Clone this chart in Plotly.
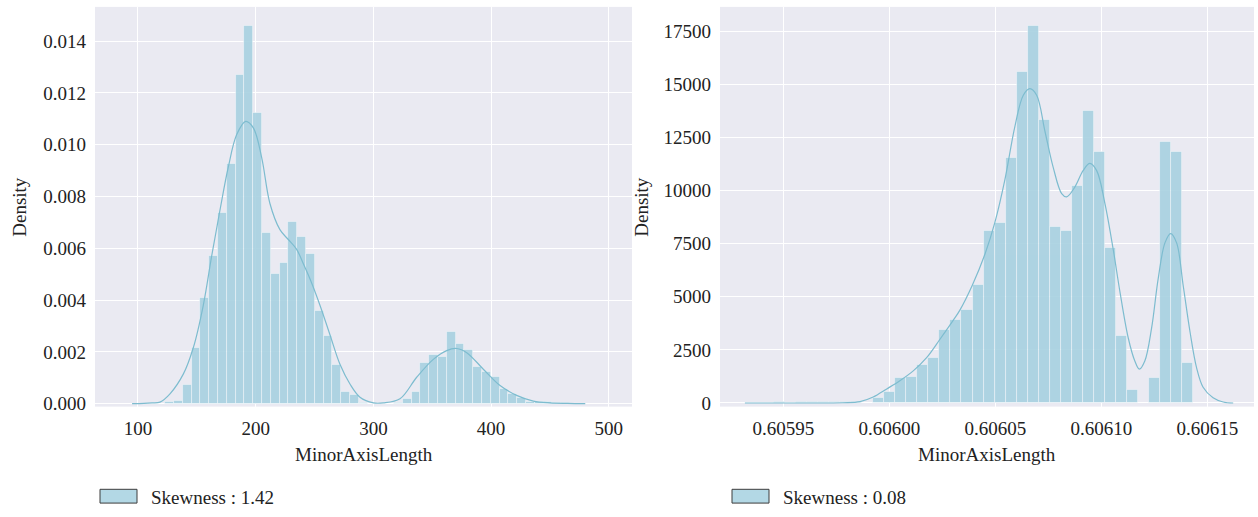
import plotly.graph_objects as go

# ---------------- data ----------------
# Left panel: MinorAxisLength histogram (density) + KDE
left_bin_start = 123.05
left_bin_width = 7.477
left_heights = [0.00006, 0.0001, 0.000735, 0.00216, 0.0041, 0.0057, 0.00738, 0.00925,
                0.0127, 0.0146, 0.01122, 0.00659, 0.00503, 0.00545, 0.00703, 0.00644,
                0.0058, 0.00358, 0.0026, 0.0015, 0.00045, 0.00032, 0.00003, 0.0,
                0.0, 0.0, 0.00003, 0.00018, 0.00045, 0.00159, 0.00187, 0.00182,
                0.00276, 0.00229, 0.00206, 0.00142, 0.00121, 0.00102, 0.00056, 0.00038,
                0.00022, 0.00008, 0.00005, 0.00006, 0.00004, 0.00003]
left_kde_x = [95, 105, 112, 118.7, 127.2, 138.5, 147, 155.5, 162.6, 169.7, 176.7, 183.9,
              191.5, 198, 205.1, 212.1, 220.6, 227.7, 234.8, 240.5, 246.1, 254.6, 263.1,
              271.6, 280.1, 288.6, 300, 308.4, 322.6, 336.8, 350.9, 362.3, 370.8, 379.3,
              393.4, 407.6, 421.7, 435.9, 450, 465, 480]
left_kde_y = [0.0, 0.00001, 0.00003, 0.00006, 0.00038, 0.00114, 0.00216, 0.0038, 0.0057,
              0.00748, 0.00913, 0.01039, 0.0109, 0.01065, 0.0095, 0.00773, 0.00672,
              0.00634, 0.00596, 0.0054, 0.00482, 0.0038, 0.00266, 0.00152, 0.00076,
              0.00025, 0.00003, 0.00003, 0.00019, 0.00102, 0.00171, 0.00205, 0.00213,
              0.00197, 0.00133, 0.0007, 0.00032, 0.0001, 0.00003, 0.00001, 0.0]
left_xticks = [100, 200, 300, 400, 500]
left_xtick_text = ["100", "200", "300", "400", "500"]
left_yticks = [0, 0.002, 0.004, 0.006, 0.008, 0.010, 0.012, 0.014]
left_ytick_text = ["0.000", "0.002", "0.004", "0.006", "0.008", "0.010", "0.012", "0.014"]
left_skew = "Skewness : 1.42"

# Right panel
right_bin_start = 0.6059300
right_bin_width = 5.2023e-6
right_heights = [0, 20, 0, 30, 20, 40, 60, 40, 50, 30, 40, 20,
                 232, 538, 1173, 1251, 1775, 2100, 3444, 3907, 4371, 5545, 8078, 8496,
                 11555, 15601, 17733, 13330, 8310, 8078, 10243, 13765, 11833, 7305,
                 3180, 630, 0, 1173, 12296, 11833, 1900]
right_kde_x = [0.6059319, 0.6059579, 0.6059780, 0.6059862, 0.6059924, 0.6059988, 0.6060050,
               0.6060113, 0.6060176, 0.6060239, 0.6060302, 0.6060333, 0.6060391, 0.6060451,
               0.6060498, 0.6060545, 0.6060592, 0.6060632, 0.6060663, 0.6060695, 0.6060734,
               0.6060773, 0.6060813, 0.6060836, 0.6060875, 0.6060914, 0.6060946, 0.6060978,
               0.6061017, 0.6061056, 0.6061088, 0.6061127, 0.6061158, 0.6061179, 0.6061205,
               0.6061237, 0.6061268, 0.6061300, 0.6061327, 0.6061355, 0.6061386, 0.6061418,
               0.6061449, 0.6061480, 0.6061527, 0.6061575, 0.6061622]
right_kde_y = [0, 0, 10, 60, 278, 663, 1048, 1511, 2132, 3000, 3900, 4371, 5530, 7000,
               8500, 10500, 13000, 14488, 14798, 14488, 12792, 11091, 9854, 9700, 10164,
               10937, 11277, 10937, 9390, 7230, 5219, 3059, 1975, 1590, 1975, 3522, 5840,
               7536, 7972, 7536, 5530, 3365, 1668, 742, 246, 46, 0]
right_xticks = [0.60595, 0.60600, 0.60605, 0.60610, 0.60615]
right_xtick_text = ["0.60595", "0.60600", "0.60605", "0.60610", "0.60615"]
right_yticks = [0, 2500, 5000, 7500, 10000, 12500, 15000, 17500]
right_ytick_text = ["0", "2500", "5000", "7500", "10000", "12500", "15000", "17500"]
right_skew = "Skewness : 0.08"

x_title = "MinorAxisLength"
y_title = "Density"

# ---------------- styling ----------------
W, H = 1258, 517
FONT = "Liberation Serif, Times New Roman, serif"
BG = "#EAEAF2"
BAR = "#A5D0E0"
LINE = "#7DBCCF"
FS = 19

def px_x(p):
    return p / W

def px_y(p):
    return 1 - p / H

fig = go.Figure()

def add_panel(start, width, heights, kx, ky, xa, ya):
    centers = [start + width * (i + 0.5) for i in range(len(heights))]
    fig.add_trace(go.Bar(x=centers, y=heights, width=[width] * len(heights),
                         marker=dict(color=BAR, line=dict(color="rgba(255,255,255,0.55)", width=0.8)),
                         opacity=0.88, xaxis=xa, yaxis=ya, showlegend=False))
    fig.add_trace(go.Scatter(x=kx, y=ky, mode="lines", line=dict(color=LINE, width=1.2, shape="spline"),
                             xaxis=xa, yaxis=ya, showlegend=False))

add_panel(left_bin_start, left_bin_width, left_heights, left_kde_x, left_kde_y, "x", "y")
add_panel(right_bin_start, right_bin_width, right_heights, right_kde_x, right_kde_y, "x2", "y2")

ydom = [px_y(413), px_y(7)]
common_axis = dict(showgrid=True, gridcolor="white", gridwidth=1, zeroline=False, showline=False,
                   ticks="", tickfont=dict(family=FONT, size=FS, color="#222222"))

fig.update_layout(
    width=W, height=H, margin=dict(l=0, r=0, t=0, b=0),
    paper_bgcolor="white", plot_bgcolor=BG, bargap=0,
    font=dict(family=FONT, size=FS, color="#222222"),
    xaxis=dict(domain=[px_x(95), px_x(632)], range=[63.5, 519.7], tickvals=left_xticks,
               ticktext=left_xtick_text, anchor="y", ticklabelstandoff=8, **common_axis),
    yaxis=dict(domain=ydom, range=[-0.000114, 0.015323], tickvals=left_yticks,
               ticktext=left_ytick_text, anchor="x", ticklabelstandoff=8, **common_axis),
    xaxis2=dict(domain=[px_x(720), px_x(1254)], range=[0.60592016, 0.6061720], tickvals=right_xticks,
                ticktext=right_xtick_text, anchor="y2", ticklabelstandoff=8, **common_axis),
    yaxis2=dict(domain=ydom, range=[-171, 18646], tickvals=right_yticks,
                ticktext=right_ytick_text, anchor="x2", ticklabelstandoff=8, **common_axis),
)

# Axis titles
ann = []
for cx, cy_x in [((95 + 632) / 2, 20), ((720 + 1254) / 2, 642)]:
    ann.append(dict(text=x_title, x=px_x(cx), y=px_y(462), xref="paper", yref="paper",
                    showarrow=False, xanchor="center", yanchor="middle",
                    font=dict(family=FONT, size=FS, color="#222222")))
    ann.append(dict(text=y_title, x=px_x(cy_x), y=px_y(210), xref="paper", yref="paper",
                    showarrow=False, xanchor="center", yanchor="middle", textangle=-90,
                    font=dict(family=FONT, size=FS, color="#222222")))

# Legend-like labels under each panel
shapes = []
for rx, label in [(100, left_skew), (732, right_skew)]:
    shapes.append(dict(type="rect", xref="paper", yref="paper",
                       x0=px_x(rx), x1=px_x(rx + 37), y0=px_y(511), y1=px_y(497),
                       fillcolor="#B3D8E5", line=dict(color="#3c3c3c", width=1)))
    ann.append(dict(text=label, x=px_x(rx + 49), y=px_y(505), xref="paper", yref="paper",
                    showarrow=False, xanchor="left", yanchor="middle",
                    font=dict(family=FONT, size=FS, color="#222222")))

fig.update_layout(annotations=ann, shapes=shapes)

fig.write_html("out.html")
